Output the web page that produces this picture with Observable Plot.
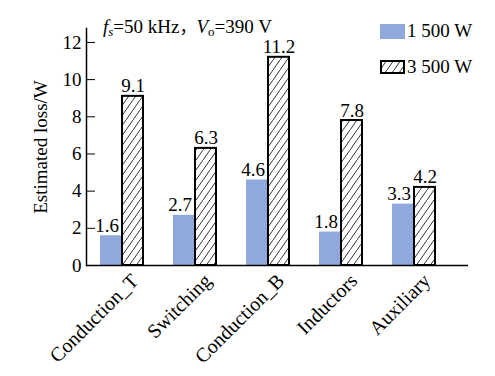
<!DOCTYPE html>
<html>
<head>
<meta charset="utf-8">
<script src="https://cdn.jsdelivr.net/npm/d3@7"></script>
<script src="https://cdn.jsdelivr.net/npm/@observablehq/plot@0.6"></script>
<style>
  html, body { margin: 0; padding: 0; background: #fff; }
  #wrap { position: relative; width: 495px; height: 376px; font-family: "Liberation Serif", "Times New Roman", serif; color: #000; }
  #title { position: absolute; left: 103px; top: 14px; font-size: 19px; white-space: nowrap; line-height: 24px; }
  #title sub { font-size: 13px; vertical-align: -3px; line-height: 0; }
  #title .cm { font-family: "Noto Sans CJK SC"; font-size: 17px; }
  .legrow { position: absolute; left: 380px; font-size: 19px; white-space: nowrap; line-height: 20px; display: flex; align-items: center; }
  .sw { display: inline-block; margin-right: 2px; }
</style>
</head>
<body>
<svg width="0" height="0" style="position:absolute">
  <defs>
    <pattern id="hatch" patternUnits="userSpaceOnUse" width="7" height="10">
      <rect width="7" height="10" fill="#fff"></rect>
      <path d="M-1.4,12 L8.4,-2" stroke="#000" stroke-width="0.8"></path>
    </pattern>
  </defs>
</svg>
<div id="wrap">
  <div id="title"><i>f</i><sub><i>s</i></sub>=50 kHz<span class="cm">，</span><i>V</i><sub>o</sub>=390 V</div>
  <div class="legrow" id="leg1" style="top:21px"></div>
  <div class="legrow" id="leg2" style="top:57px"></div>
</div>
<script>
const categories = ["Conduction_T", "Switching", "Conduction_B", "Inductors", "Auxiliary"];
const loss1500 = [1.6, 2.7, 4.6, 1.8, 3.3];
const loss3500 = [9.1, 6.3, 11.2, 7.8, 4.2];
const seriesNames = ["1 500 W", "3 500 W"];
const yTicks = [0, 2, 4, 6, 8, 10, 12];

const blue = "#8fa9dc";
const d1 = categories.map((c, i) => ({cat: c, v: loss1500[i]}));
const d2 = categories.map((c, i) => ({cat: c, v: loss3500[i]}));

const chart = Plot.plot({
  width: 495,
  height: 376,
  marginLeft: 86,
  marginRight: 27,
  marginTop: 28,
  marginBottom: 111,
  style: {fontFamily: "Liberation Serif, Times New Roman, serif", fontSize: "19px", color: "#000", background: "transparent"},
  x: {domain: categories, paddingInner: 0.405, paddingOuter: 0.284, align: 0.31},
  y: {domain: [0, 12.75]},
  marks: [
    Plot.barY(d1, {x: "cat", y: "v", fill: blue, insetRight: 22}),
    Plot.barY(d2, {x: "cat", y: "v", fill: "url(#hatch)", stroke: "#000", strokeWidth: 2, insetLeft: 22}),
    Plot.text(d1, {x: "cat", y: "v", text: d => d.v.toFixed(1), dx: -15, dy: -4, lineAnchor: "bottom", fill: "#000"}),
    Plot.text(d2, {x: "cat", y: "v", text: d => d.v.toFixed(1), dx: 11, dy: -4, lineAnchor: "bottom", fill: "#000"}),
    Plot.frame({anchor: "left", stroke: "#000", strokeWidth: 1.5}),
    Plot.ruleY([0], {stroke: "#000", strokeWidth: 1.5}),
    Plot.axisY({ticks: yTicks, tickSize: 9, dx: 9, fill: "none", stroke: "#000", label: null}),
    Plot.axisY({ticks: yTicks, tickSize: 0, tickPadding: 5, label: null, fill: "#000"}),
    Plot.axisX({tickSize: 0, tickRotate: -45, tickPadding: 12, dx: 13, label: null, fill: "#000", fontSize: 20}),
    Plot.text(["Estimated loss/W"], {frameAnchor: "left", textAnchor: "middle", rotate: -90, dx: -46, text: d => d, fill: "#000"})
  ]
});
document.getElementById("wrap").prepend(chart);

function swatch(fill, stroke, w, h) {
  return `<svg class="sw" width="${w}" height="${h}"><rect x="1" y="1" width="${w - 2}" height="${h - 2}" fill="${fill}" ${stroke ? `stroke="${stroke}" stroke-width="2"` : ""}></rect></svg>`;
}
document.getElementById("leg1").innerHTML = `<svg class="sw" width="25" height="15"><rect width="25" height="15" fill="${blue}"></rect></svg>${seriesNames[0]}`;
document.getElementById("leg2").innerHTML = swatch("url(#hatch)", "#000", 25, 14) + seriesNames[1];
</script>
</body>
</html>
